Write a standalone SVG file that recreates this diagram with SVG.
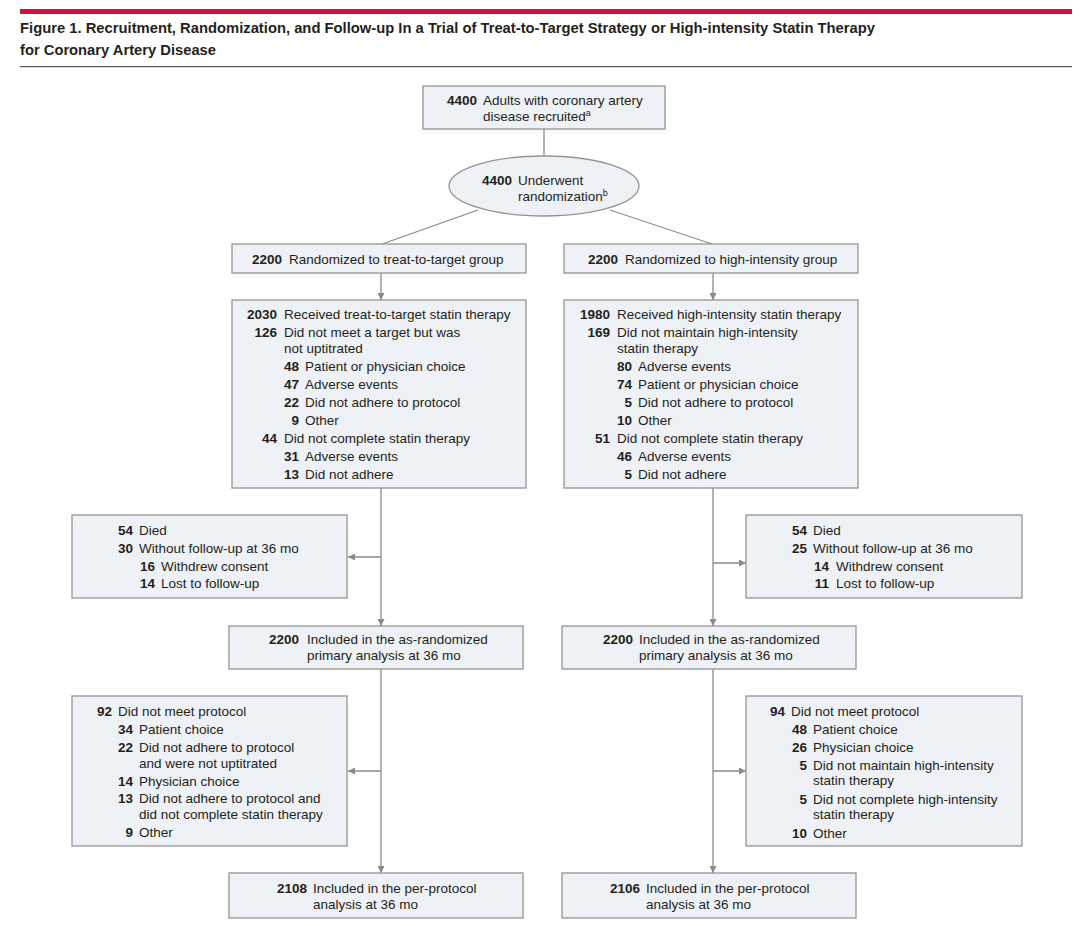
<svg xmlns="http://www.w3.org/2000/svg" width="1080" height="933" viewBox="0 0 1080 933">
<style>
text{font-family:"Liberation Sans",Arial,sans-serif;font-size:13.5px;fill:#231f20}
.n{font-weight:bold;text-anchor:end}
.title{font-size:15.5px;font-weight:bold;fill:#231f20}
.box{fill:#eef1f5;stroke:#949494;stroke-width:1.3}
.ln{stroke:#8a8a8a;stroke-width:1.3;fill:none}
.sup{font-size:9px}
</style>
<defs>
<marker id="ah" viewBox="0 0 10 10" refX="10" refY="5" markerWidth="7" markerHeight="7" markerUnits="userSpaceOnUse" orient="auto">
<path d="M0,0 L10,5 L0,10 z" fill="#8a8a8a"/>
</marker>
</defs>
<rect x="20" y="9" width="1052" height="5" fill="#d1103a"/>
<text class="title" x="20" y="33" textLength="855" lengthAdjust="spacingAndGlyphs">Figure 1. Recruitment, Randomization, and Follow-up In a Trial of Treat-to-Target Strategy or High-intensity Statin Therapy</text>
<text class="title" x="20" y="55" textLength="196" lengthAdjust="spacingAndGlyphs">for Coronary Artery Disease</text>
<rect x="20" y="66" width="1052" height="1.2" fill="#555"/>

<g id="connectors">
<line class="ln" x1="544" y1="129" x2="544" y2="157"/>
<line class="ln" x1="478" y1="210" x2="382" y2="244"/>
<line class="ln" x1="610" y1="210" x2="712" y2="244"/>
<line class="ln" x1="381" y1="273" x2="381" y2="300" marker-end="url(#ah)"/>
<line class="ln" x1="713" y1="273" x2="713" y2="300" marker-end="url(#ah)"/>
<line class="ln" x1="381" y1="488" x2="381" y2="626" marker-end="url(#ah)"/>
<line class="ln" x1="713" y1="488" x2="713" y2="626" marker-end="url(#ah)"/>
<line class="ln" x1="381" y1="557" x2="348" y2="557" marker-end="url(#ah)"/>
<line class="ln" x1="713" y1="563" x2="746" y2="563" marker-end="url(#ah)"/>
<line class="ln" x1="381" y1="669" x2="381" y2="873" marker-end="url(#ah)"/>
<line class="ln" x1="713" y1="669" x2="713" y2="873" marker-end="url(#ah)"/>
<line class="ln" x1="381" y1="771" x2="348" y2="771" marker-end="url(#ah)"/>
<line class="ln" x1="713" y1="771" x2="746" y2="771" marker-end="url(#ah)"/>
</g>

<g id="recruited">
<rect class="box" x="423" y="86" width="242" height="43"/>
<text class="n" x="477" y="105">4400</text>
<text x="483" y="105">Adults with coronary artery</text>
<text x="483" y="121">disease recruited<tspan class="sup" dy="-5">a</tspan></text>
</g>

<g id="randomization">
<ellipse class="box" cx="544" cy="186" rx="95" ry="30"/>
<text class="n" x="512" y="185">4400</text>
<text x="518" y="185">Underwent</text>
<text x="518" y="201">randomization<tspan class="sup" dy="-5">b</tspan></text>
</g>

<g id="rand-ttt">
<rect class="box" x="232" y="244" width="294" height="29"/>
<text class="n" x="282" y="264">2200</text>
<text x="289" y="264">Randomized to treat-to-target group</text>
</g>

<g id="rand-hi">
<rect class="box" x="564" y="244" width="294" height="29"/>
<text class="n" x="618" y="264">2200</text>
<text x="625" y="264">Randomized to high-intensity group</text>
</g>

<g id="received-ttt">
<rect class="box" x="232" y="300" width="294" height="188"/>
<text class="n" x="277" y="319">2030</text><text x="284" y="319">Received treat-to-target statin therapy</text>
<text class="n" x="277" y="337">126</text><text x="284" y="337">Did not meet a target but was</text>
<text x="284" y="353">not uptitrated</text>
<text class="n" x="299" y="371">48</text><text x="305" y="371">Patient or physician choice</text>
<text class="n" x="299" y="389">47</text><text x="305" y="389">Adverse events</text>
<text class="n" x="299" y="407">22</text><text x="305" y="407">Did not adhere to protocol</text>
<text class="n" x="299" y="425">9</text><text x="305" y="425">Other</text>
<text class="n" x="277" y="443">44</text><text x="284" y="443">Did not complete statin therapy</text>
<text class="n" x="299" y="461">31</text><text x="305" y="461">Adverse events</text>
<text class="n" x="299" y="479">13</text><text x="305" y="479">Did not adhere</text>
</g>

<g id="received-hi">
<rect class="box" x="564" y="300" width="294" height="188"/>
<text class="n" x="610" y="319">1980</text><text x="617" y="319">Received high-intensity statin therapy</text>
<text class="n" x="610" y="337">169</text><text x="617" y="337">Did not maintain high-intensity</text>
<text x="617" y="353">statin therapy</text>
<text class="n" x="632" y="371">80</text><text x="638" y="371">Adverse events</text>
<text class="n" x="632" y="389">74</text><text x="638" y="389">Patient or physician choice</text>
<text class="n" x="632" y="407">5</text><text x="638" y="407">Did not adhere to protocol</text>
<text class="n" x="632" y="425">10</text><text x="638" y="425">Other</text>
<text class="n" x="610" y="443">51</text><text x="617" y="443">Did not complete statin therapy</text>
<text class="n" x="632" y="461">46</text><text x="638" y="461">Adverse events</text>
<text class="n" x="632" y="479">5</text><text x="638" y="479">Did not adhere</text>
</g>

<g id="lost-ttt">
<rect class="box" x="72" y="515" width="275" height="83"/>
<text class="n" x="133" y="535">54</text><text x="139" y="535">Died</text>
<text class="n" x="133" y="553">30</text><text x="139" y="553">Without follow-up at 36 mo</text>
<text class="n" x="155" y="571">16</text><text x="161" y="571">Withdrew consent</text>
<text class="n" x="155" y="588">14</text><text x="161" y="588">Lost to follow-up</text>
</g>

<g id="lost-hi">
<rect class="box" x="746" y="515" width="276" height="83"/>
<text class="n" x="807" y="535">54</text><text x="813" y="535">Died</text>
<text class="n" x="807" y="553">25</text><text x="813" y="553">Without follow-up at 36 mo</text>
<text class="n" x="829" y="571">14</text><text x="836" y="571">Withdrew consent</text>
<text class="n" x="829" y="588">11</text><text x="836" y="588">Lost to follow-up</text>
</g>

<g id="asrand-ttt">
<rect class="box" x="229" y="626" width="294" height="43"/>
<text class="n" x="299" y="644">2200</text>
<text x="307" y="644">Included in the as-randomized</text>
<text x="307" y="660">primary analysis at 36 mo</text>
</g>

<g id="asrand-hi">
<rect class="box" x="562" y="626" width="294" height="43"/>
<text class="n" x="633" y="644">2200</text>
<text x="639" y="644">Included in the as-randomized</text>
<text x="639" y="660">primary analysis at 36 mo</text>
</g>

<g id="protocol-ttt">
<rect class="box" x="72" y="696" width="275" height="150"/>
<text class="n" x="112" y="716">92</text><text x="118" y="716">Did not meet protocol</text>
<text class="n" x="133" y="734">34</text><text x="139" y="734">Patient choice</text>
<text class="n" x="133" y="752">22</text><text x="139" y="752">Did not adhere to protocol</text>
<text x="139" y="768">and were not uptitrated</text>
<text class="n" x="133" y="786">14</text><text x="139" y="786">Physician choice</text>
<text class="n" x="133" y="803">13</text><text x="139" y="803">Did not adhere to protocol and</text>
<text x="139" y="819">did not complete statin therapy</text>
<text class="n" x="133" y="837">9</text><text x="139" y="837">Other</text>
</g>

<g id="protocol-hi">
<rect class="box" x="746" y="696" width="276" height="150"/>
<text class="n" x="785" y="716">94</text><text x="791" y="716">Did not meet protocol</text>
<text class="n" x="807" y="734">48</text><text x="813" y="734">Patient choice</text>
<text class="n" x="807" y="752">26</text><text x="813" y="752">Physician choice</text>
<text class="n" x="807" y="770">5</text><text x="813" y="770">Did not maintain high-intensity</text>
<text x="813" y="785">statin therapy</text>
<text class="n" x="807" y="804">5</text><text x="813" y="804">Did not complete high-intensity</text>
<text x="813" y="819">statin therapy</text>
<text class="n" x="807" y="838">10</text><text x="813" y="838">Other</text>
</g>

<g id="perprot-ttt">
<rect class="box" x="229" y="873" width="294" height="45"/>
<text class="n" x="307" y="893">2108</text>
<text x="313" y="893">Included in the per-protocol</text>
<text x="313" y="909">analysis at 36 mo</text>
</g>

<g id="perprot-hi">
<rect class="box" x="562" y="873" width="294" height="45"/>
<text class="n" x="640" y="893">2106</text>
<text x="646" y="893">Included in the per-protocol</text>
<text x="646" y="909">analysis at 36 mo</text>
</g>
</svg>
